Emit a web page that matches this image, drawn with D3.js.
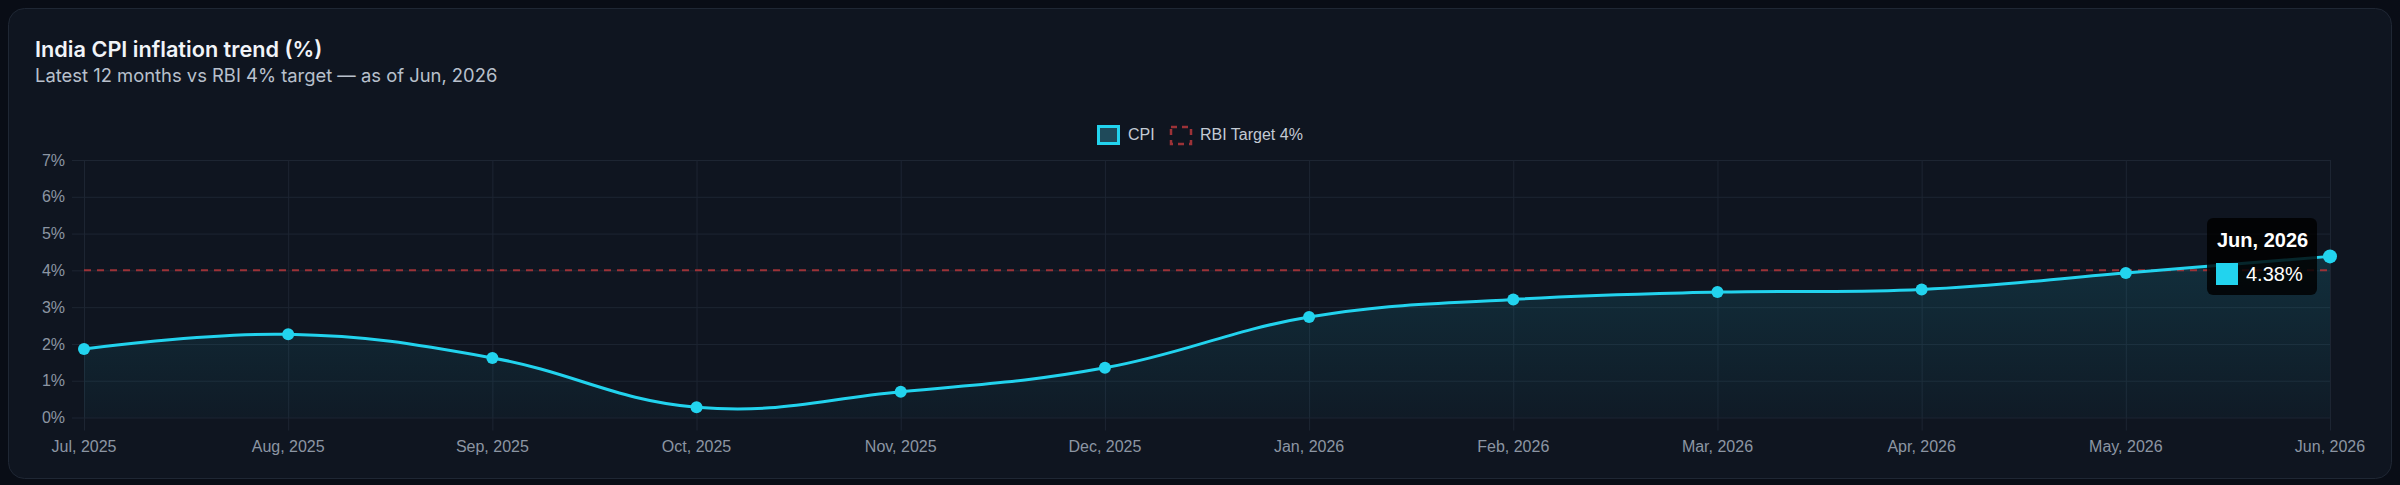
<!DOCTYPE html>
<html><head><meta charset="utf-8">
<script src="https://cdn.jsdelivr.net/npm/d3@7"></script>
<style>
html,body{margin:0;padding:0;background:#090d16;}
svg{display:block;}
</style></head><body>
<svg id="c" width="2400" height="485"></svg>
<script>
// ---- data ----
const months = ["Jul, 2025","Aug, 2025","Sep, 2025","Oct, 2025","Nov, 2025","Dec, 2025","Jan, 2026","Feb, 2026","Mar, 2026","Apr, 2026","May, 2026","Jun, 2026"];
const cpiValues = [1.86,2.26,1.62,0.28,0.70,1.35,2.73,3.21,3.41,3.48,3.93,4.38];
const targetValue = 4;
const yTicks = [0,1,2,3,4,5,6,7];
const yTickLabels = ["0%","1%","2%","3%","4%","5%","6%","7%"];
const titleText = "India CPI inflation trend (%)";
const subtitleText = "Latest 12 months vs RBI 4% target — as of Jun, 2026";
const legendLabels = ["CPI","RBI Target 4%"];
const tooltipIndex = 11;

// ---- drawing ----
const svg = d3.select("#c");
const axisFont = "'Liberation Sans', Arial, Helvetica, sans-serif";
const uiFont = "Inter, 'Noto Sans', sans-serif";
const cyan = "#22d3ee";

svg.append("rect").attr("x",8.5).attr("y",8.5).attr("width",2383).attr("height",470)
  .attr("rx",16).attr("fill","#0f1520").attr("stroke","#1f2734").attr("stroke-width",1);

svg.append("text").attr("x",35).attr("y",57).text(titleText)
  .attr("font-family",uiFont).attr("font-weight",600).attr("font-size",21.7).attr("fill","#f1f4f8");
svg.append("text").attr("x",35).attr("y",82).text(subtitleText)
  .attr("font-family",uiFont).attr("font-size",18.4).attr("fill","#b8c0cc");

const x = d3.scalePoint().domain(months).range([84, 2330]);
const y = d3.scaleLinear().domain([0,7]).range([417.5, 160]);

const defs = svg.append("defs");
const grad = defs.append("linearGradient").attr("id","fillg").attr("gradientUnits","userSpaceOnUse")
  .attr("x1",0).attr("x2",0).attr("y1",y(7)).attr("y2",y(0));
grad.append("stop").attr("offset","0%").attr("stop-color",cyan).attr("stop-opacity",0.2);
grad.append("stop").attr("offset","100%").attr("stop-color",cyan).attr("stop-opacity",0.03);

const gridColor = "#1d2532";
const gy = svg.append("g");
gy.selectAll("line").data(yTicks).join("line")
  .attr("x1",72).attr("x2",x(months[months.length-1]))
  .attr("y1",d=>y(d)+0.5).attr("y2",d=>y(d)+0.5)
  .attr("stroke",gridColor).attr("stroke-width",1);
gy.selectAll("text").data(yTicks).join("text")
  .attr("x",65).attr("y",d=>y(d)).attr("dy","0.35em").attr("text-anchor","end")
  .attr("font-family",axisFont).attr("font-size",16).attr("fill","#8c95a3")
  .text((d,i)=>yTickLabels[i]);
const gx = svg.append("g");
gx.selectAll("line").data(months).join("line")
  .attr("x1",d=>x(d)+0.5).attr("x2",d=>x(d)+0.5).attr("y1",y(7)).attr("y2",y(0)+13)
  .attr("stroke",gridColor).attr("stroke-width",1);
gx.selectAll("text").data(months).join("text")
  .attr("x",d=>x(d)).attr("y",452).attr("text-anchor","middle")
  .attr("font-family",axisFont).attr("font-size",16).attr("fill","#8c95a3")
  .text(d=>d);

const curve = d3.curveCardinal.tension(-0.2);
const pts = months.map((m,i)=>({m, v:cpiValues[i]}));
const area = d3.area().x(d=>x(d.m)).y0(y(0)).y1(d=>y(d.v)).curve(curve);
const line = d3.line().x(d=>x(d.m)).y(d=>y(d.v)).curve(curve);

svg.append("path").datum(pts).attr("d",area).attr("fill","url(#fillg)");

svg.append("line").attr("x1",x(months[0])).attr("x2",x(months[months.length-1]))
  .attr("y1",y(targetValue)).attr("y2",y(targetValue))
  .attr("stroke","#9c3237").attr("stroke-width",2).attr("stroke-dasharray","7,6");

svg.append("path").datum(pts).attr("d",line).attr("fill","none")
  .attr("stroke",cyan).attr("stroke-width",3);

svg.append("g").selectAll("circle").data(pts).join("circle")
  .attr("cx",d=>x(d.m)).attr("cy",d=>y(d.v)).attr("r",(d,i)=>i===tooltipIndex?7:6)
  .attr("fill",cyan);

const lg = svg.append("g").attr("font-family",axisFont).attr("font-size",16);
lg.append("text").attr("x",1128).attr("y",140).attr("fill","#c3cad4").text(legendLabels[0]);
lg.append("rect").attr("x",1098.5).attr("y",126.5).attr("width",20).attr("height",17)
  .attr("fill","#1f4a5a").attr("stroke",cyan).attr("stroke-width",3);
lg.append("rect").attr("x",1171).attr("y",127).attr("width",20).attr("height",17)
  .attr("fill","none").attr("stroke","#9c3237").attr("stroke-width",2.5).attr("stroke-dasharray","6,5");
lg.append("text").attr("x",1200).attr("y",140).attr("fill","#c3cad4").text(legendLabels[1]);

const tp = pts[tooltipIndex];
const tg = svg.append("g");
tg.append("rect").attr("x",2207).attr("y",218).attr("width",110).attr("height",77).attr("rx",6)
  .attr("fill","rgba(0,0,0,0.82)");
tg.append("text").attr("x",2217).attr("y",247).text(tp.m)
  .attr("font-family",axisFont).attr("font-weight","bold").attr("font-size",20).attr("fill","#ffffff");
tg.append("rect").attr("x",2216).attr("y",263).attr("width",22).attr("height",22)
  .attr("fill",cyan);
tg.append("text").attr("x",2246).attr("y",281).text(d3.format(".2f")(tp.v)+"%")
  .attr("font-family",axisFont).attr("font-size",20).attr("fill","#ffffff");
</script>
</body></html>
